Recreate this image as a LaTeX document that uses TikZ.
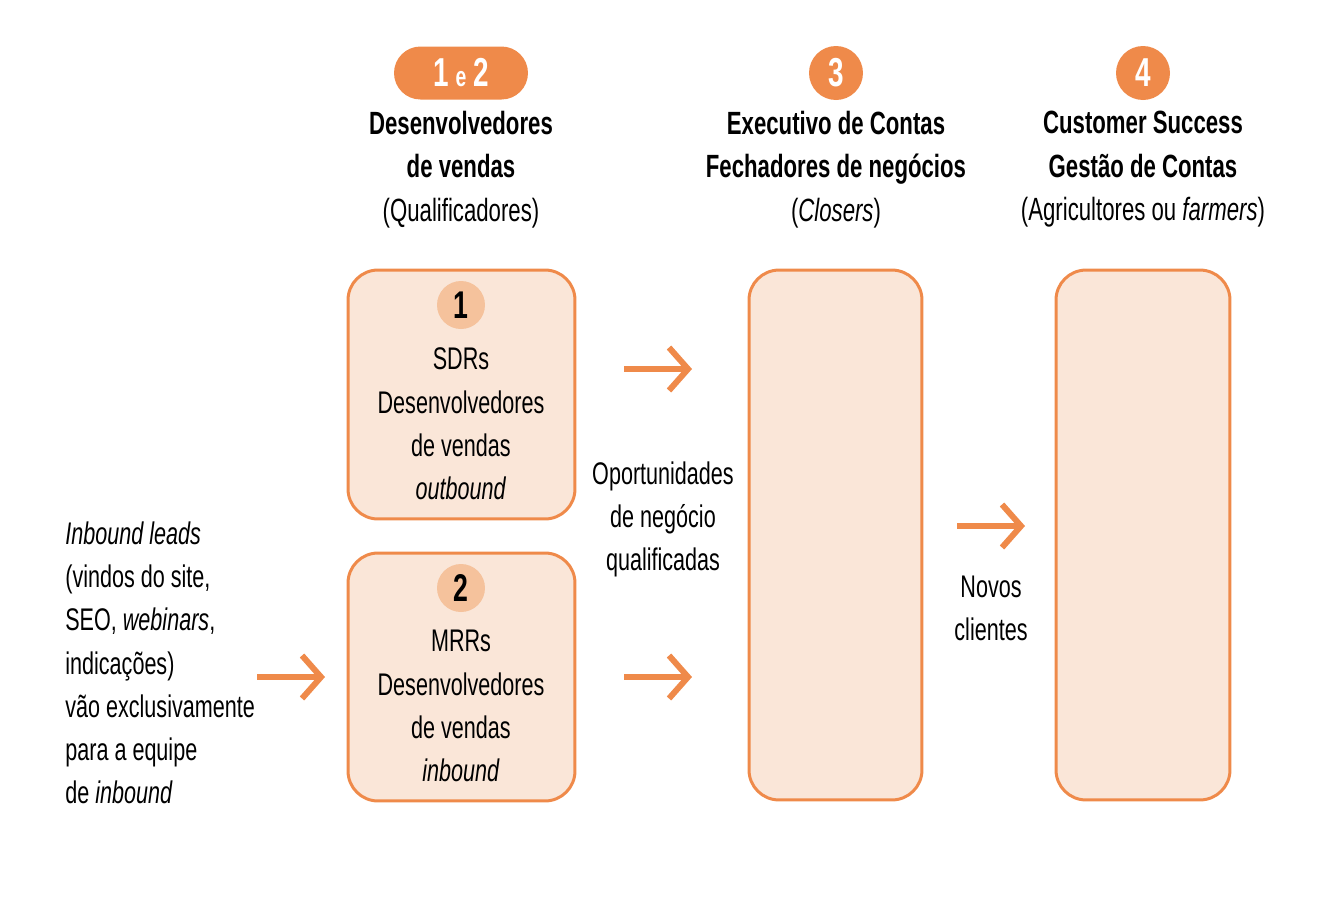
\documentclass[tikz,border=0pt]{standalone}
\usepackage{fontspec}
\setmainfont{Liberation Sans}[FakeStretch=0.69]
\usetikzlibrary{arrows.meta}
\definecolor{orng}{HTML}{EF8A4A}
\definecolor{boxfill}{HTML}{FAE6D8}
\definecolor{dotfill}{HTML}{F5C29C}
\tikzset{
  stagebox/.style={draw=orng, line width=1.7pt, fill=boxfill, rounded corners=0.6cm, inner sep=0pt},
  bigdot/.style={circle, fill=orng, minimum size=1.08cm, inner sep=0pt, text=white, font=\fontsize{23}{26}\selectfont\bfseries},
  smalldot/.style={circle, fill=dotfill, minimum size=0.96cm, inner sep=0pt, font=\fontsize{22}{26}\selectfont\bfseries},
  headtxt/.style={align=center, font=\fontsize{18.3}{24.8}\selectfont},
  bodytxt/.style={align=center, font=\fontsize{17.8}{24.6}\selectfont},
  arr/.style={draw=orng, line width=3.4pt, -{Straight Barb[length=0.38cm, width=0.86cm]}}
}
\begin{document}
\begin{tikzpicture}[x=0.02cm, y=-0.02cm]
\useasboundingbox (0,0) rectangle (1320,904);
% header badges
\node[bigdot, rounded corners=0.53cm, rectangle, minimum width=2.68cm, minimum height=1.06cm] (b12) at (461,73) {1\,{\fontsize{16}{18}\selectfont e}\,2};
\node[bigdot] (b3) at (836,73) {3};
\node[bigdot] (b4) at (1143,73) {4};
% headers
\node[headtxt] (h12) at (461,169.5) {\textbf{Desenvolvedores}\\\textbf{de vendas}\\(Qualificadores)};
\node[headtxt] (h3) at (836,169.5) {\textbf{Executivo de Contas}\\\textbf{Fechadores de negócios}\\(\textit{Closers})};
\node[headtxt] (h4) at (1143,169.5) {\textbf{Customer Success}\\\textbf{Gestão de Contas}\\(Agricultores ou \textit{farmers})};
% boxes
\node[stagebox, minimum width=4.54cm, minimum height=4.98cm] (box1) at (461.5,394.5) {};
\node[stagebox, minimum width=4.54cm, minimum height=4.96cm] (box2) at (461.5,677) {};
\node[stagebox, minimum width=3.46cm, minimum height=10.6cm] (box3) at (835.5,535) {};
\node[stagebox, minimum width=3.48cm, minimum height=10.6cm] (box4) at (1143,535) {};
% box contents
\node[smalldot] (d1) at (461,305) {1};
\node[bodytxt] (t1) at (461,424) {SDRs\\Desenvolvedores\\de vendas\\\textit{outbound}};
\node[smalldot] (d2) at (461,588) {2};
\node[bodytxt] (t2) at (461,706) {MRRs\\Desenvolvedores\\de vendas\\\textit{inbound}};
% side texts
\node[bodytxt] (opp) at (663,519.5) {Oportunidades\\de negócio\\qualificadas};
\node[bodytxt] (novos) at (991,608.5) {Novos\\clientes};
\node[bodytxt, align=left, anchor=west, inner sep=0pt] (leads) at (65,663) {\textit{Inbound leads}\\(vindos do site,\\SEO, \textit{webinars},\\indicações)\\vão exclusivamente\\para a equipe\\de \textit{inbound}};
% arrows
\coordinate (a1s) at (624,369); \coordinate (a1e) at (692,369);
\coordinate (a2s) at (624,677); \coordinate (a2e) at (692,677);
\coordinate (a3s) at (957,526); \coordinate (a3e) at (1025,526);
\coordinate (a0s) at (257,677); \coordinate (a0e) at (325,677);
\draw[arr] (a1s) -- (a1e);
\draw[arr] (a2s) -- (a2e);
\draw[arr] (a3s) -- (a3e);
\draw[arr] (a0s) -- (a0e);
\end{tikzpicture}
\end{document}
